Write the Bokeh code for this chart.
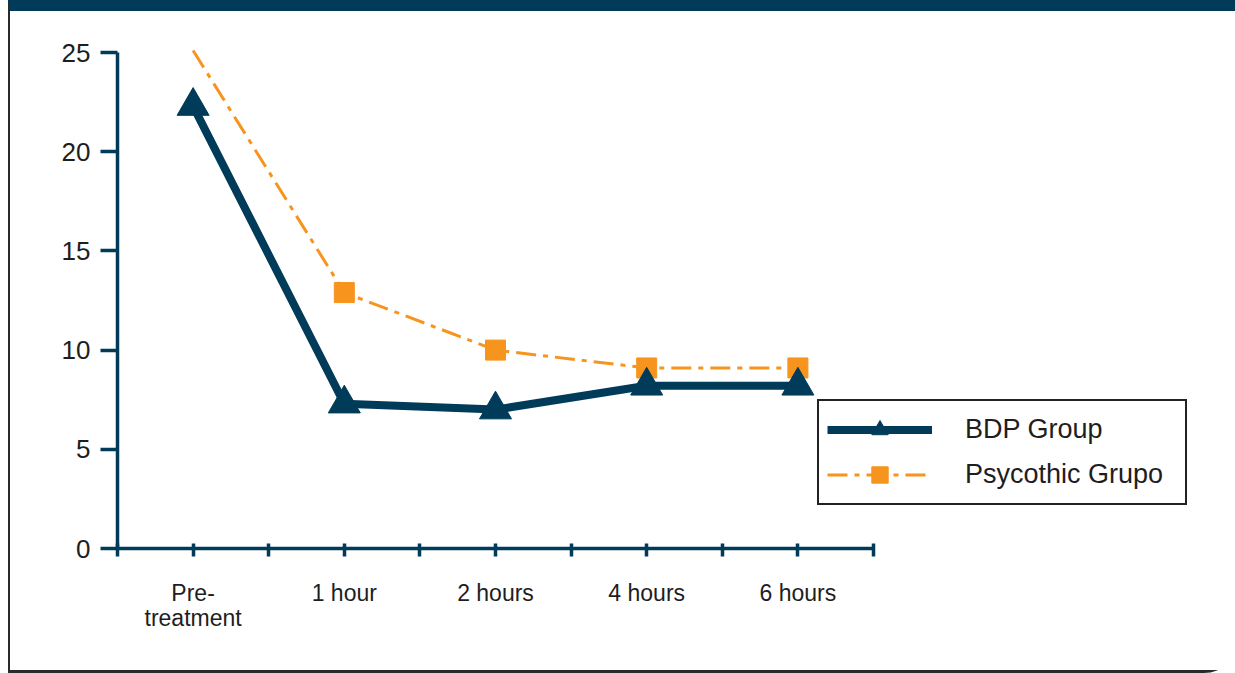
from bokeh.plotting import figure
from bokeh.models import (Range1d, FixedTicker, Legend, LegendItem,
                          ColumnDataSource, CDSView, IndexFilter)
from bokeh.embed import file_html
from bokeh.resources import INLINE

# ---- data ----
categories = ["Pre-\ntreatment", "1 hour", "2 hours", "4 hours", "6 hours"]
x_pos = [0, 1, 2, 3, 4]
bdp_group = [22.3, 7.3, 7.0, 8.2, 8.2]
psycothic_group = [25.1, 12.9, 10.0, 9.1, 9.1]
y_ticks = [0, 5, 10, 15, 20, 25]

NAVY = "#003b5a"
ORANGE = "#f7941d"
TEXT = "#1e1e1e"
FONT = "Liberation Sans"

# content box of the figure host; the canvas takes the host's outer size
W, H = 1225, 659
CW, CH = W + 2 + 3, H + 11 + 3
FRAME_L, FRAME_T, FRAME_B = 107, 29, 537
PX_PER_X = 151.2

p = figure(width=W, height=H, output_backend="svg", toolbar_location=None,
           x_range=Range1d(-0.5, -0.5 + (CW - FRAME_L) / PX_PER_X),
           y_range=Range1d(0, 25 * (FRAME_B - FRAME_T) / 496.0),
           min_border_left=FRAME_L, min_border_right=0, min_border_top=FRAME_T,
           min_border_bottom=CH - FRAME_B)
p.outline_line_color = None
p.grid.visible = False
p.background_fill_color = "white"
p.border_fill_color = "white"
p.styles = {
    "box-sizing": "content-box",
    "margin-left": "8px",
    "border-left": "2px solid #2a2a2a",
    "border-top": "11px solid " + NAVY,
    "border-bottom": "3px solid #2a2a2a",
    "border-right": "3px solid #2a2a2a",
    "border-bottom-right-radius": "34px",
}

src = ColumnDataSource(dict(x=x_pos, bdp=bdp_group, psy=psycothic_group))

psy_line = p.line("x", "psy", source=src, line_color=ORANGE, line_width=3,
                  line_dash="20 7 5 7")
psy_pts = p.scatter("x", "psy", source=src, marker="square", size=20,
                    fill_color=ORANGE, line_color=ORANGE,
                    view=CDSView(filter=IndexFilter([1, 2, 3, 4])))
bdp_line = p.line("x", "bdp", source=src, line_color=NAVY, line_width=8)
bdp_pts = p.scatter("x", "bdp", source=src, marker="triangle", size=32,
                    fill_color=NAVY, line_color=NAVY)

# ---- axes ----
yax = p.yaxis[0]
yax.ticker = FixedTicker(ticks=y_ticks)
yax.bounds = (0, 25)
yax.axis_line_color = NAVY
yax.axis_line_width = 3.5
yax.major_tick_line_color = NAVY
yax.major_tick_line_width = 3.5
yax.major_tick_out = 17
yax.major_tick_in = 0
yax.minor_tick_line_color = None
yax.major_label_text_font = FONT
yax.major_label_text_font_size = "26px"
yax.major_label_text_color = TEXT
yax.major_label_standoff = 10

xax = p.xaxis[0]
xax.ticker = FixedTicker(ticks=[-0.5, 0, 0.5, 1, 1.5, 2, 2.5, 3, 3.5, 4, 4.5])
xax.bounds = (-0.5, 4.5)
overrides = {-0.5: "", 0.5: "", 1.5: "", 2.5: "", 3.5: "", 4.5: ""}
for xp, lab in zip(x_pos, categories):
    overrides[xp] = lab
xax.major_label_overrides = overrides
xax.axis_line_color = NAVY
xax.axis_line_width = 3.5
xax.major_tick_line_color = NAVY
xax.major_tick_line_width = 3.5
xax.major_tick_out = 8
xax.major_tick_in = 5
xax.minor_tick_line_color = None
xax.major_label_text_font = FONT
xax.major_label_text_font_size = "23px"
xax.major_label_text_color = TEXT
xax.major_label_text_line_height = 0.98
xax.major_label_standoff = 23

# ---- legend ----
legend = Legend(items=[LegendItem(label="BDP Group", renderers=[bdp_line, bdp_pts]),
                       LegendItem(label="Psycothic Grupo", renderers=[psy_line, psy_pts])],
                location=(700, 43), orientation="vertical",
                padding=8, spacing=4, glyph_width=105, glyph_height=41,
                label_standoff=33, label_width=212, label_height=41,
                label_text_font=FONT, label_text_font_size="27px",
                label_text_color=TEXT, label_text_baseline="middle",
                border_line_color="#222222", border_line_width=2.5,
                border_line_alpha=1.0,
                background_fill_color="white", background_fill_alpha=1.0,
                margin=0)
p.add_layout(legend, "center")

open("out.html", "w").write(file_html(p, INLINE))
